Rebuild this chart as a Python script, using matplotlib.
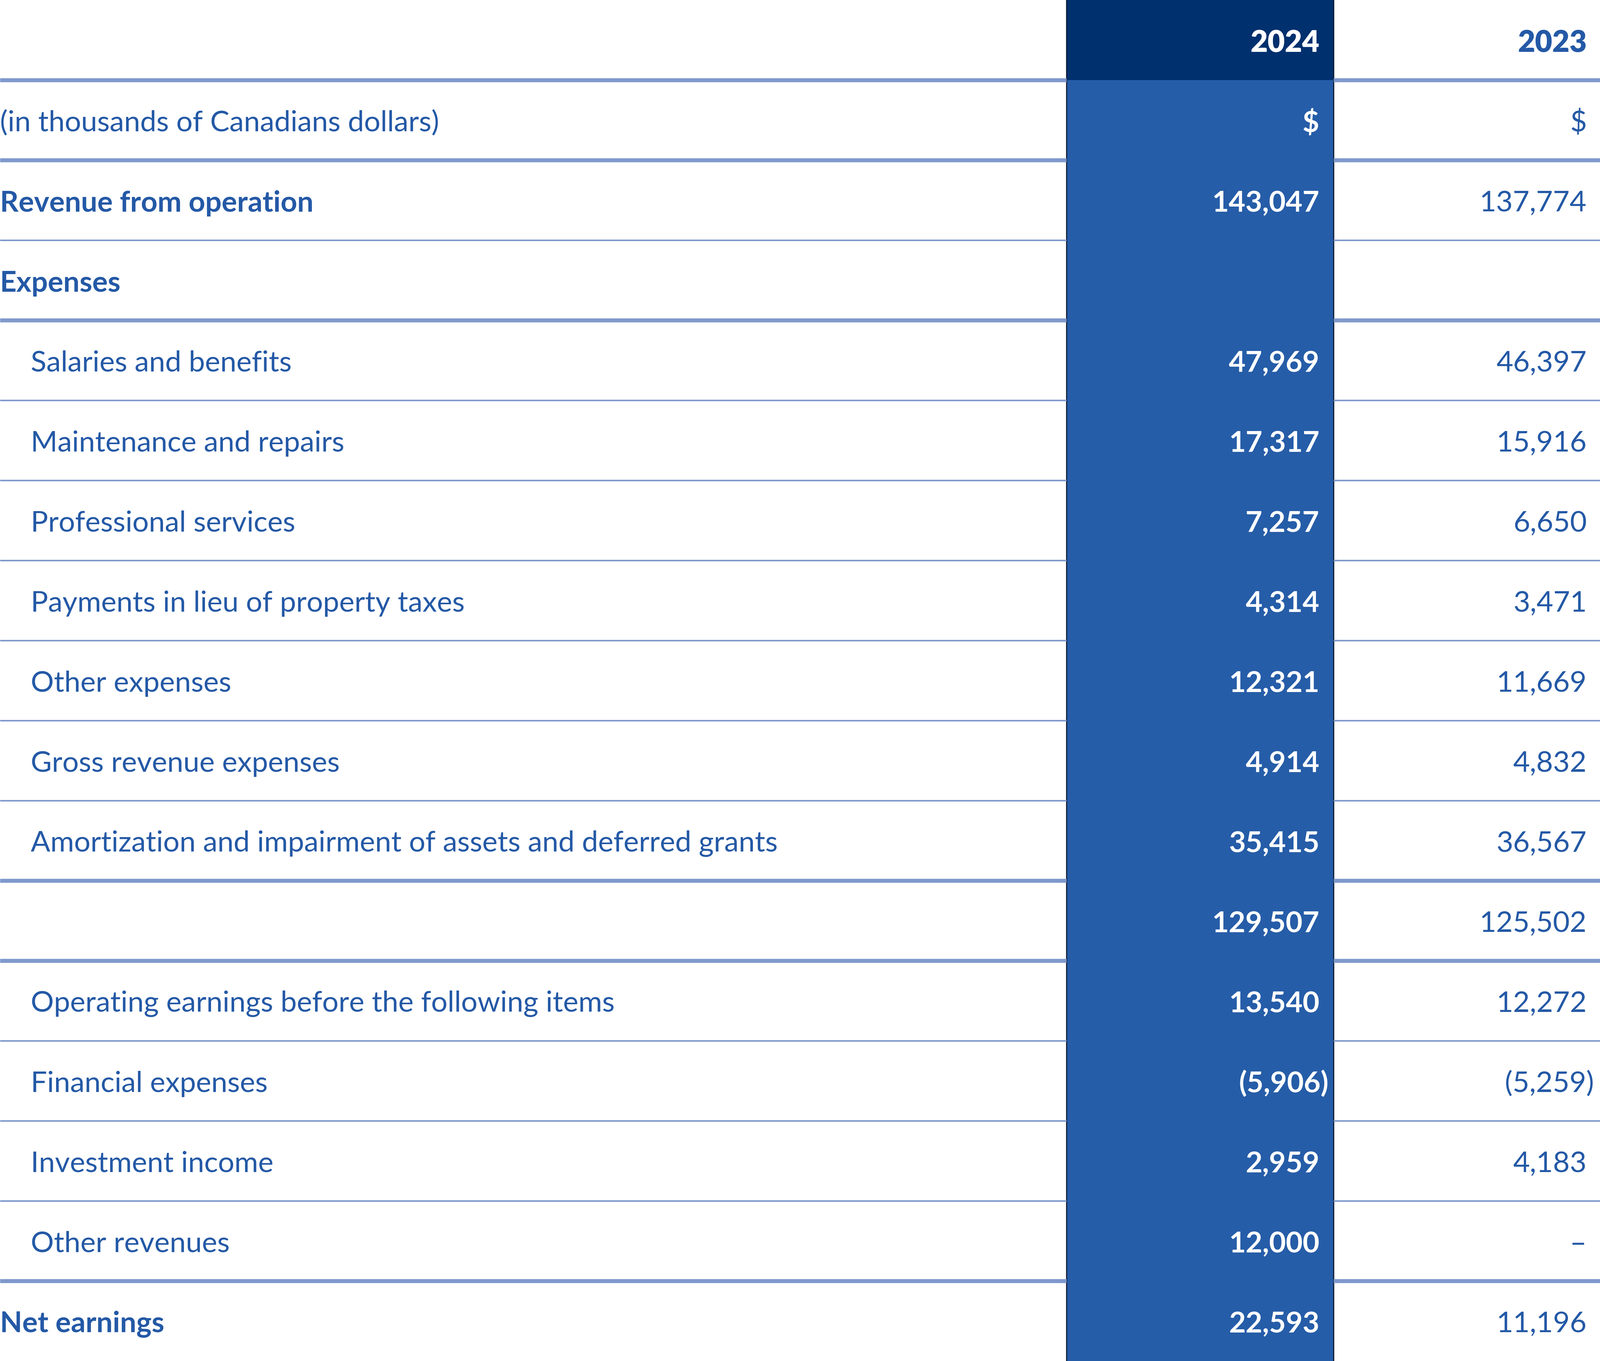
import matplotlib.pyplot as plt
from matplotlib.patches import Rectangle

# Table content
labels = [
    "(in thousands of Canadians dollars)",
    "Revenue from operation",
    "Expenses",
    "Salaries and benefits",
    "Maintenance and repairs",
    "Professional services",
    "Payments in lieu of property taxes",
    "Other expenses",
    "Gross revenue expenses",
    "Amortization and impairment of assets and deferred grants",
    "",
    "Operating earnings before the following items",
    "Financial expenses",
    "Investment income",
    "Other revenues",
    "Net earnings",
]
years = ["2024", "2023"]
values_2024 = ["$", "143,047", "", "47,969", "17,317", "7,257", "4,314", "12,321",
               "4,914", "35,415", "129,507", "13,540", "(5,906)", "2,959", "12,000", "22,593"]
values_2023 = ["$", "137,774", "", "46,397", "15,916", "6,650", "3,471", "11,669",
               "4,832", "36,567", "125,502", "12,272", "(5,259)", "4,183", "–", "11,196"]

BOLD_LABELS = {1, 2, 15}
NOT_INDENTED = {0, 1, 2, 15}
THICK_AFTER = {-1, 0, 2, 9, 10, 14}   # row index after which a thick rule is drawn (-1 = header)

TEXT = "#2459a6"
HEADER_BG = "#00306e"
COL_BG = "#265da8"
RULE = "#7f99cc"
FONT = "Lato"

W, H = 1568, 1334
ROW_H = H / 17
X0, X1, X2 = 1045, 1307, 1568
FS = 65
DY = 3

fig = plt.figure(figsize=(49.96, 42.5), dpi=100)
ax = fig.add_axes([0, 0, 1, 1])
ax.set_xlim(0, W)
ax.set_ylim(H, 0)
ax.axis("off")

# highlighted 2024 column
ax.add_patch(Rectangle((X0, 0), X1 - X0, ROW_H, facecolor=HEADER_BG, edgecolor="none"))
ax.add_patch(Rectangle((X0, ROW_H), X1 - X0, H - ROW_H, facecolor=COL_BG, edgecolor="none"))
ax.plot([X0, X0], [0, H], color="#0d1b33", lw=2.5)
ax.plot([X1, X1], [0, H], color="#0d1b33", lw=2.5)

# header
yc = ROW_H / 2 + DY
ax.text(X1 - 14, yc, years[0], color="white", fontsize=FS + 2, fontweight="black",
        family=FONT, ha="right", va="center")
ax.text(X2 - 13, yc, years[1], color=TEXT, fontsize=FS + 2, fontweight="black",
        family=FONT, ha="right", va="center")

for i, lab in enumerate(labels):
    yc = ROW_H * (i + 1.5) + DY
    x = 0 if i in NOT_INDENTED else 30
    ax.text(x, yc, lab, color=TEXT, fontsize=FS, family=FONT, ha="left", va="center",
            fontweight="bold" if i in BOLD_LABELS else "normal")
    v24 = values_2024[i]
    v23 = values_2023[i]
    r24 = X1 - 14 + (9 if v24.endswith(")") else 0)
    r23 = X2 - 13 + (7 if v23.endswith(")") else 0)
    ax.text(r24, yc, v24, color="white", fontsize=FS, fontweight="bold",
            family=FONT, ha="right", va="center")
    ax.text(r23, yc, v23, color=TEXT, fontsize=FS, family=FONT, ha="right", va="center")

# horizontal rules
for i in range(-1, len(labels) - 1):
    y = ROW_H * (i + 2)
    thick = i in THICK_AFTER
    for xa, xb in [(0, X0), (X1, X2)]:
        ax.plot([xa, xb], [y, y], color=RULE, lw=9 if thick else 3.5, solid_capstyle="butt")

fig.savefig("out.png", dpi=100)
